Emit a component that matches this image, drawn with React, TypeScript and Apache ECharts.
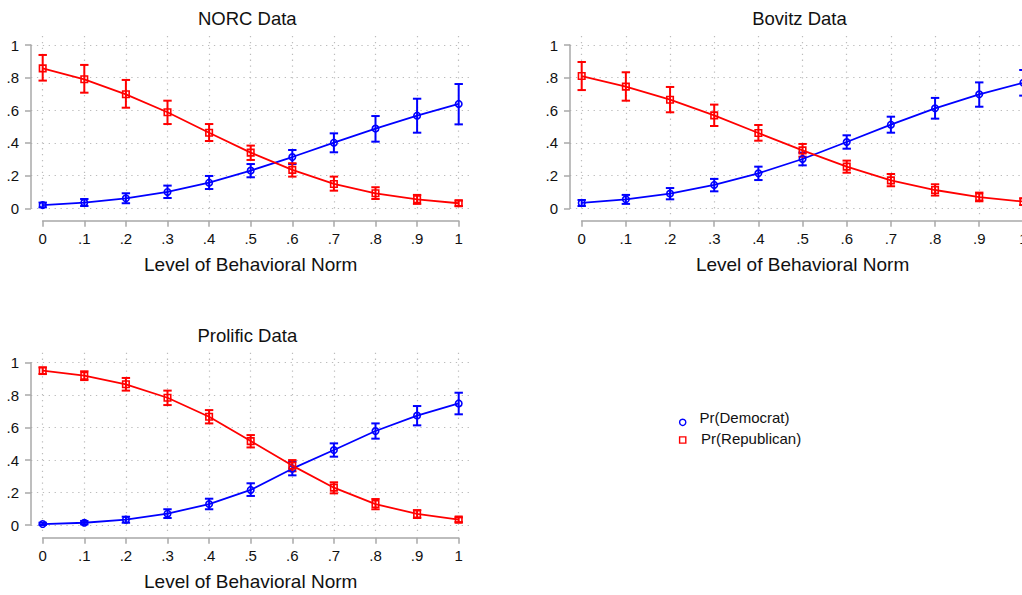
import React, { useEffect, useRef } from "react";
import * as echarts from "echarts";

// Levels of the behavioral norm (x) and the tick labels shown on the axes
const normLevels = [0, 0.1, 0.2, 0.3, 0.4, 0.5, 0.6, 0.7, 0.8, 0.9, 1];
const xTickLabels = ["0", ".1", ".2", ".3", ".4", ".5", ".6", ".7", ".8", ".9", "1"];
const yTickValues = [0, 0.2, 0.4, 0.6, 0.8, 1];
const yTickLabels = ["0", ".2", ".4", ".6", ".8", "1"];
const xAxisTitle = "Level of Behavioral Norm";
const panelTitles = ["NORC Data", "Bovitz Data", "Prolific Data"];
const seriesNames = ["Pr(Democrat)", "Pr(Republican)"];

// NORC sample: predicted probabilities with 95% confidence bounds
const norcDem = [0.020, 0.035, 0.061, 0.100, 0.157, 0.231, 0.314, 0.402, 0.488, 0.567, 0.639];
const norcDemLo = [0.006, 0.014, 0.031, 0.063, 0.118, 0.190, 0.271, 0.343, 0.408, 0.463, 0.514];
const norcDemHi = [0.035, 0.057, 0.092, 0.139, 0.198, 0.271, 0.357, 0.459, 0.565, 0.671, 0.761];
const norcRep = [0.857, 0.790, 0.698, 0.588, 0.463, 0.341, 0.235, 0.149, 0.092, 0.055, 0.031];
const norcRepLo = [0.782, 0.708, 0.616, 0.516, 0.412, 0.296, 0.194, 0.108, 0.057, 0.027, 0.014];
const norcRepHi = [0.939, 0.878, 0.786, 0.659, 0.516, 0.384, 0.276, 0.194, 0.129, 0.082, 0.047];

// Bovitz sample
const bovitzDem = [0.033, 0.055, 0.090, 0.143, 0.214, 0.302, 0.406, 0.512, 0.612, 0.698, 0.769];
const bovitzDemLo = [0.014, 0.027, 0.055, 0.104, 0.173, 0.263, 0.365, 0.463, 0.549, 0.622, 0.690];
const bovitzDemHi = [0.051, 0.082, 0.124, 0.180, 0.255, 0.341, 0.447, 0.561, 0.676, 0.771, 0.847];
const bovitzRep = [0.810, 0.745, 0.665, 0.569, 0.461, 0.355, 0.255, 0.171, 0.112, 0.069, 0.041];
const bovitzRepLo = [0.724, 0.659, 0.588, 0.504, 0.414, 0.316, 0.218, 0.135, 0.078, 0.043, 0.020];
const bovitzRepHi = [0.896, 0.833, 0.743, 0.635, 0.510, 0.394, 0.292, 0.210, 0.147, 0.096, 0.061];

// Prolific sample
const prolificDem = [0.006, 0.014, 0.033, 0.070, 0.129, 0.216, 0.347, 0.462, 0.579, 0.674, 0.749];
const prolificDemLo = [0.000, 0.004, 0.014, 0.043, 0.097, 0.179, 0.306, 0.421, 0.532, 0.614, 0.682];
const prolificDemHi = [0.014, 0.025, 0.051, 0.097, 0.162, 0.257, 0.390, 0.503, 0.626, 0.733, 0.815];
const prolificRep = [0.951, 0.920, 0.867, 0.784, 0.667, 0.517, 0.366, 0.230, 0.129, 0.068, 0.033];
const prolificRepLo = [0.930, 0.893, 0.828, 0.739, 0.626, 0.478, 0.331, 0.195, 0.097, 0.043, 0.018];
const prolificRepHi = [0.971, 0.947, 0.906, 0.828, 0.708, 0.554, 0.400, 0.263, 0.160, 0.092, 0.047];

const panelData = [
  { dem: norcDem, demLo: norcDemLo, demHi: norcDemHi, rep: norcRep, repLo: norcRepLo, repHi: norcRepHi },
  { dem: bovitzDem, demLo: bovitzDemLo, demHi: bovitzDemHi, rep: bovitzRep, repLo: bovitzRepLo, repHi: bovitzRepHi },
  { dem: prolificDem, demLo: prolificDemLo, demHi: prolificDemHi, rep: prolificRep, repLo: prolificRepLo, repHi: prolificRepHi },
];

// Pixel frames of each panel: data box (x0..x0+w, y0-h..y0) and the wider plot region
const frames = [
  { x0: 42.7, w: 416, y0: 208.3, h: 163.3, left: 31, right: 470, top: 36, bottom: 215, titleX: 247.3, titleY: 18.3, offX: 12.4, offY: 11.7 },
  { x0: 581.7, w: 441.7, y0: 208.3, h: 163.3, left: 570, right: 1035, top: 36, bottom: 215, titleX: 799.5, titleY: 18.3, offX: 12.4, offY: 11.7 },
  { x0: 42.7, w: 416, y0: 525, h: 162.3, left: 31, right: 470, top: 352.7, bottom: 531.7, titleX: 247.3, titleY: 335, offX: 12.7, offY: 11.7 },
];

const FONT = '"Liberation Sans", Arial, Helvetica, sans-serif';
const BLUE = "#0000ff";
const RED = "#ff0000";
const AXIS_GRAY = "#a8a8a8";
const TEXT = "#111111";

const gridLineStyle = { color: "#bcbcbc", width: 1.2, type: [1.3, 4.6] as number[] };

function errorBars(color: string) {
  return (_params: any, api: any) => {
    const x = api.value(0);
    const lo = api.coord([x, api.value(1)]);
    const hi = api.coord([x, api.value(2)]);
    const half = 4.2;
    const style = { stroke: color, lineWidth: 2, fill: "none" };
    return {
      type: "group",
      children: [
        { type: "line", shape: { x1: lo[0], y1: lo[1], x2: hi[0], y2: hi[1] }, style },
        { type: "line", shape: { x1: lo[0] - half, y1: lo[1], x2: lo[0] + half, y2: lo[1] }, style },
        { type: "line", shape: { x1: hi[0] - half, y1: hi[1], x2: hi[0] + half, y2: hi[1] }, style },
      ],
    };
  };
}

function buildOption() {
  const grid: any[] = [];
  const xAxis: any[] = [];
  const yAxis: any[] = [];
  const series: any[] = [];
  const graphic: any[] = [];

  frames.forEach((f, i) => {
    const plotIdx = 2 * i;
    const dataIdx = 2 * i + 1;

    // Plot region carrying the dotted grid lines
    grid.push({
      left: f.left,
      top: f.top,
      width: f.right - f.left,
      height: f.bottom - f.top,
      containLabel: false,
      outerBoundsMode: "none",
    });
    // Data box carrying the offset axes and the series
    grid.push({
      left: f.x0,
      top: f.y0 - f.h,
      width: f.w,
      height: f.h,
      containLabel: false,
      outerBoundsMode: "none",
    });

    xAxis.push({
      gridIndex: plotIdx,
      type: "value",
      min: (f.left - f.x0) / f.w,
      max: (f.right - f.x0) / f.w,
      axisLine: { show: false, onZero: false },
      axisTick: { show: false, customValues: normLevels },
      axisLabel: { show: false, customValues: normLevels },
      splitLine: { show: true, lineStyle: gridLineStyle },
    });
    yAxis.push({
      gridIndex: plotIdx,
      type: "value",
      min: (f.y0 - f.bottom) / f.h,
      max: (f.y0 - f.top) / f.h,
      axisLine: { show: false, onZero: false },
      axisTick: { show: false, customValues: yTickValues },
      axisLabel: { show: false, customValues: yTickValues },
      splitLine: { show: true, lineStyle: gridLineStyle },
    });

    xAxis.push({
      gridIndex: dataIdx,
      type: "value",
      position: "bottom",
      min: 0,
      max: 1,
      interval: 0.1,
      offset: f.offX,
      axisLine: { show: true, onZero: false, lineStyle: { color: AXIS_GRAY, width: 1.5 } },
      axisTick: { show: true, length: 6, lineStyle: { color: AXIS_GRAY, width: 1.5 } },
      axisLabel: {
        margin: 10,
        fontSize: 15,
        fontFamily: FONT,
        color: TEXT,
        formatter: (v: number) => xTickLabels[Math.round(v * 10)],
      },
      splitLine: { show: false },
      name: xAxisTitle,
      nameLocation: "middle",
      nameGap: 34,
      nameTextStyle: { fontSize: 19, fontFamily: FONT, color: TEXT },
    });
    yAxis.push({
      gridIndex: dataIdx,
      type: "value",
      position: "left",
      min: 0,
      max: 1,
      interval: 0.2,
      offset: f.offY,
      axisLine: { show: true, onZero: false, lineStyle: { color: AXIS_GRAY, width: 1.5 } },
      axisTick: { show: true, length: 6, lineStyle: { color: AXIS_GRAY, width: 1.5 } },
      axisLabel: {
        margin: 12,
        fontSize: 15,
        fontFamily: FONT,
        color: TEXT,
        formatter: (v: number) => yTickLabels[Math.round(v * 5)],
      },
      splitLine: { show: false },
    });

    const d = panelData[i];
    series.push({
      type: "custom",
      xAxisIndex: dataIdx,
      yAxisIndex: dataIdx,
      renderItem: errorBars(BLUE),
      data: normLevels.map((x, j) => [x, d.demLo[j], d.demHi[j]]),
      encode: { x: 0, y: [1, 2] },
      clip: false,
      silent: true,
      z: 2,
    });
    series.push({
      type: "custom",
      xAxisIndex: dataIdx,
      yAxisIndex: dataIdx,
      renderItem: errorBars(RED),
      data: normLevels.map((x, j) => [x, d.repLo[j], d.repHi[j]]),
      encode: { x: 0, y: [1, 2] },
      clip: false,
      silent: true,
      z: 2,
    });
    series.push({
      type: "line",
      name: seriesNames[0],
      xAxisIndex: dataIdx,
      yAxisIndex: dataIdx,
      data: normLevels.map((x, j) => [x, d.dem[j]]),
      symbol: "circle",
      symbolSize: 6.5,
      showSymbol: true,
      itemStyle: { color: "rgba(255,255,255,0)", borderColor: BLUE, borderWidth: 1.6 },
      lineStyle: { color: BLUE, width: 1.8 },
      clip: false,
      silent: true,
      z: 3,
    });
    series.push({
      type: "line",
      name: seriesNames[1],
      xAxisIndex: dataIdx,
      yAxisIndex: dataIdx,
      data: normLevels.map((x, j) => [x, d.rep[j]]),
      symbol: "rect",
      symbolSize: 6.5,
      showSymbol: true,
      itemStyle: { color: "rgba(255,255,255,0)", borderColor: RED, borderWidth: 1.6 },
      lineStyle: { color: RED, width: 1.8 },
      clip: false,
      silent: true,
      z: 4,
    });

    graphic.push({
      type: "text",
      x: f.titleX,
      y: f.titleY,
      style: {
        text: panelTitles[i],
        align: "center",
        verticalAlign: "middle",
        fontSize: 18.5,
        fontFamily: FONT,
        fill: TEXT,
      },
    });
  });

  // Legend in the empty lower-right cell
  graphic.push(
    { type: "circle", shape: { cx: 682.7, cy: 422.3, r: 3.1 }, style: { fill: "none", stroke: BLUE, lineWidth: 1.4 } },
    { type: "rect", shape: { x: 679.6, y: 436.9, width: 6.2, height: 6.2 }, style: { fill: "none", stroke: RED, lineWidth: 1.4 } },
    {
      type: "text",
      x: 699.5,
      y: 417.7,
      style: { text: seriesNames[0], align: "left", verticalAlign: "middle", fontSize: 15, fontFamily: FONT, fill: TEXT },
    },
    {
      type: "text",
      x: 701.1,
      y: 438.3,
      style: { text: seriesNames[1], align: "left", verticalAlign: "middle", fontSize: 15, fontFamily: FONT, fill: TEXT },
    }
  );

  return {
    animation: false,
    backgroundColor: "#ffffff",
    textStyle: { fontFamily: FONT },
    grid,
    xAxis,
    yAxis,
    series,
    graphic,
  };
}

export default function App() {
  const ref = useRef<HTMLDivElement>(null);

  useEffect(() => {
    if (!ref.current) return;
    const chart = echarts.init(ref.current, undefined, { renderer: "svg" });
    chart.setOption(buildOption() as any);
    return () => chart.dispose();
  }, []);

  return (
    <div
      ref={ref}
      style={{ position: "absolute", left: 0, top: 0, width: 1022, height: 595, background: "#ffffff" }}
    />
  );
}
